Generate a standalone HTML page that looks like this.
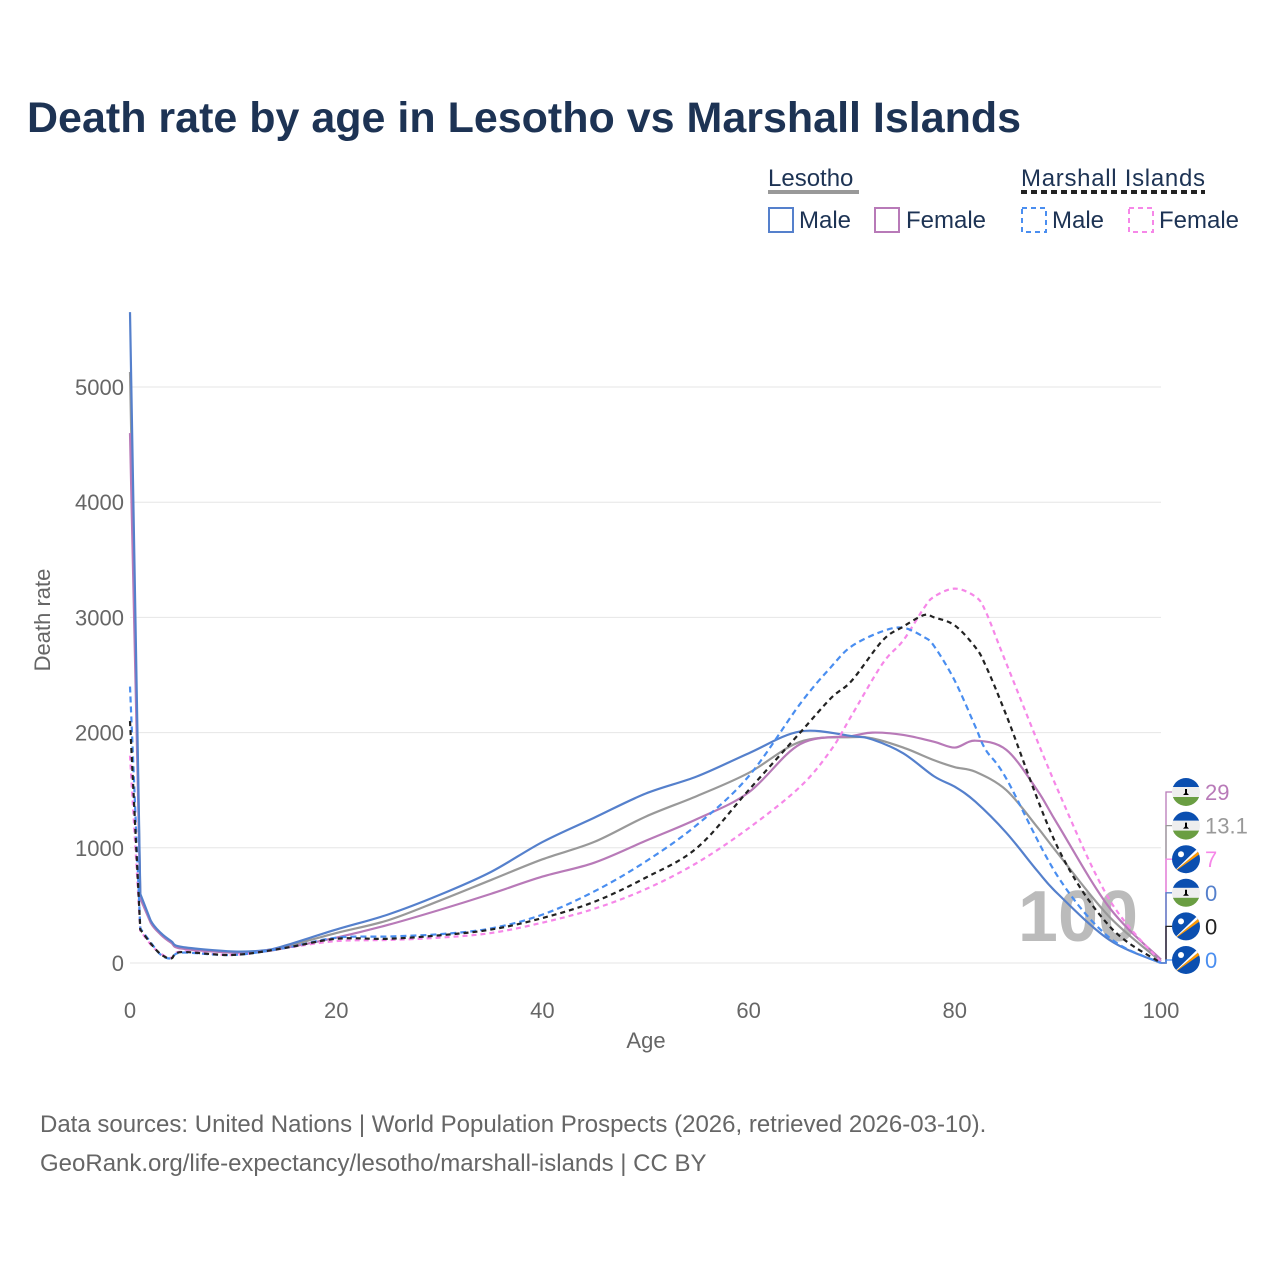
<!DOCTYPE html>
<html><head><meta charset="utf-8">
<style>
body{margin:0;background:#fff;font-family:"Liberation Sans",sans-serif;}
svg text{font-family:"Liberation Sans",sans-serif;}
</style></head>
<body>
<svg id="c" width="1280" height="1280" viewBox="0 0 1280 1280" xmlns="http://www.w3.org/2000/svg">
<defs><clipPath id="fc"><circle cx="0" cy="0" r="14"/></clipPath></defs>
<rect width="1280" height="1280" fill="#fff"/>
<text x="27" y="132" font-size="43" font-weight="bold" fill="#1d3354">Death rate by age in Lesotho vs Marshall Islands</text>
<g>
 <text x="768" y="186" font-size="24" fill="#1d3354">Lesotho</text>
 <line x1="768" y1="192" x2="859" y2="192" stroke="#999" stroke-width="4"/>
 <rect x="769" y="208" width="24" height="24" fill="none" stroke="#5580cc" stroke-width="2"/>
 <text x="799" y="228" font-size="24" fill="#1d3354">Male</text>
 <rect x="875" y="208" width="24" height="24" fill="none" stroke="#b87ab8" stroke-width="2"/>
 <text x="906" y="228" font-size="24" fill="#1d3354">Female</text>
 <text x="1021" y="186" font-size="24" fill="#1d3354" textLength="184">Marshall Islands</text>
 <line x1="1021" y1="192" x2="1205" y2="192" stroke="#222" stroke-width="4" stroke-dasharray="6,4"/>
 <rect x="1022" y="208" width="24" height="24" fill="none" stroke="#4a8ef0" stroke-width="2" stroke-dasharray="5,4"/>
 <text x="1052" y="228" font-size="24" fill="#1d3354">Male</text>
 <rect x="1129" y="208" width="24" height="24" fill="none" stroke="#f687e8" stroke-width="2" stroke-dasharray="5,4"/>
 <text x="1159" y="228" font-size="24" fill="#1d3354">Female</text>
</g>
<g id="grid"></g>
<text x="1078" y="941" font-size="72" font-weight="bold" fill="#bbb" text-anchor="middle">100</text>
<g id="series"></g>
<g id="ends"></g>
<text x="50" y="620" font-size="22" fill="#666" text-anchor="middle" transform="rotate(-90 50 620)">Death rate</text>
<text x="646" y="1048" font-size="22" fill="#666" text-anchor="middle">Age</text>
<text x="40" y="1132" font-size="24" fill="#666">Data sources: United Nations | World Population Prospects (2026, retrieved 2026-03-10).</text>
<text x="40" y="1171" font-size="24" fill="#666">GeoRank.org/life-expectancy/lesotho/marshall-islands | CC BY</text>
</svg>
<script>
const yTicks=[0,1000,2000,3000,4000,5000];
const xTicks=[0,20,40,60,80,100];
const lsAges=[0,1,2,3,4,5,10,13,15,20,25,30,35,40,45,50,55,60,65,70,72,75,78,80,82,85,88,90,95,100];
const lsMale=[5650,600,370,260,190,140,100,110,150,290,420,590,790,1050,1260,1470,1620,1820,2010,1970,1940,1820,1620,1530,1400,1130,800,600,200,0];
const lsBoth=[5130,580,360,250,180,130,95,105,140,260,370,540,720,900,1050,1270,1450,1650,1920,1960,1950,1870,1760,1700,1660,1500,1180,950,400,13];
const lsFemale=[4600,560,350,245,175,125,90,100,130,220,330,460,600,750,870,1060,1250,1480,1900,1970,2000,1980,1920,1870,1930,1850,1500,1200,480,29];
const miAges=[0,1,2,3,4,5,10,15,20,25,30,35,40,45,50,55,60,65,68,70,73,75,77,78,80,82,83,85,90,95,100];
const miMale=[2400,300,180,70,40,90,70,130,220,230,250,300,420,620,880,1200,1620,2250,2570,2750,2880,2910,2830,2750,2450,2050,1850,1600,750,220,0];
const miBoth=[2100,290,170,75,40,95,70,130,210,210,240,290,390,530,740,1000,1500,2000,2300,2450,2800,2920,3020,3000,2930,2740,2580,2150,1000,320,0];
const miFemale=[1800,280,160,80,45,100,70,130,190,200,220,260,350,470,640,870,1170,1530,1850,2150,2600,2800,3080,3180,3250,3180,3050,2600,1500,550,7];
const endLabels=["29","13.1","7","0","0","0"];

const X=a=>130+a*10.31, Y=v=>963-v*0.1152;
const NS="http://www.w3.org/2000/svg";
function el(t,a,p){const e=document.createElementNS(NS,t);for(const k in a)e.setAttribute(k,a[k]);p.appendChild(e);return e;}
const grid=document.getElementById('grid');
yTicks.forEach(v=>{
 const l=el('line',{x1:130,x2:1161,y1:Y(v),y2:Y(v),stroke:'#e6e6e6','stroke-width':1},grid);
 
 
 const t=el('text',{x:124,y:Y(v)+8,'font-size':22,fill:'#666','text-anchor':'end'},grid);t.textContent=v;
 
 
});
xTicks.forEach(a=>{
 const t=el('text',{x:X(a),y:1018,'font-size':22,fill:'#666','text-anchor':'middle'},grid);t.textContent=a;
 
 
});
function path(ages,vals){
 const p=ages.map((a,i)=>[X(a),Y(vals[i])]);
 let d='M'+p[0][0]+','+p[0][1];
 for(let i=0;i<p.length-1;i++){
  const p0=p[i-1]||p[i],p1=p[i],p2=p[i+1],p3=p[i+2]||p2;
  let c1=[p1[0]+(p2[0]-p0[0])/6,p1[1]+(p2[1]-p0[1])/6],c2=[p2[0]-(p3[0]-p1[0])/6,p2[1]-(p3[1]-p1[1])/6];
  if(i<2){c1=p1;c2=p2;}
  d+=` C${c1[0]},${c1[1]} ${c2[0]},${c2[1]} ${p2[0]},${p2[1]}`;
 }
 return d;
}
const S=document.getElementById('series');
const defs=[
 [lsAges,lsBoth,'#999',null,'series-lesotho-both'],
 [lsAges,lsFemale,'#b87ab8',null,'series-lesotho-female'],
 [lsAges,lsMale,'#5580cc',null,'series-lesotho-male'],
 [miAges,miFemale,'#f687e8','5,4','series-marshall-female'],
 [miAges,miMale,'#4a8ef0','6,4','series-marshall-male'],
 [miAges,miBoth,'#222','5,4','series-marshall-both']];
defs.forEach(s=>{
 const a={d:path(s[0],s[1]),fill:'none',stroke:s[2],'stroke-width':2.2};
 if(s[3])a['stroke-dasharray']=s[3];
 const e=el('path',a,S);
 
 
});
const E=document.getElementById('ends');
const endCols=['#b87ab8','#999','#f687e8','#5580cc','#222','#4a8ef0'];
const flags=['ls','ls','mi','ls','mi','mi'];
endLabels.forEach((lab,i)=>{
 const y=792+i*33.6;
 el('path',{d:`M1161,963 L1166,963 L1166,${y} L1172,${y}`,fill:'none',stroke:endCols[i],'stroke-width':1.3},E);
 const g=el('g',{transform:`translate(1186,${y})`},E);
 
 
 const c=el('g',{'clip-path':'url(#fc)'},g);
 if(flags[i]=='ls'){
  el('rect',{x:-15,y:-15,width:30,height:30,fill:'#eee'},c);
  el('rect',{x:-15,y:-15,width:30,height:10,fill:'#0b4fb0'},c);
  el('rect',{x:-15,y:5,width:30,height:10,fill:'#6a9e42'},c);
  el('path',{d:'M-1,-3 L1,-3 L1,1 L3,3 L-3,3 L-1,1 Z',fill:'#000'},c);
 }else{
  el('rect',{x:-15,y:-15,width:30,height:30,fill:'#0b4fb0'},c);
  el('path',{d:'M-15,15 L15,-10 L15,-6 Z',fill:'#f90'},c);
  el('path',{d:'M-15,15 L15,-10 L15,-14 Z',fill:'#fff'},c);
  el('circle',{cx:-5,cy:-5,r:3,fill:'#fff'},c);
 }
 const t=el('text',{x:1205,y:y+8,'font-size':22,fill:endCols[i]},E);t.textContent=lab;
 
 
});
</script>
</body></html>
